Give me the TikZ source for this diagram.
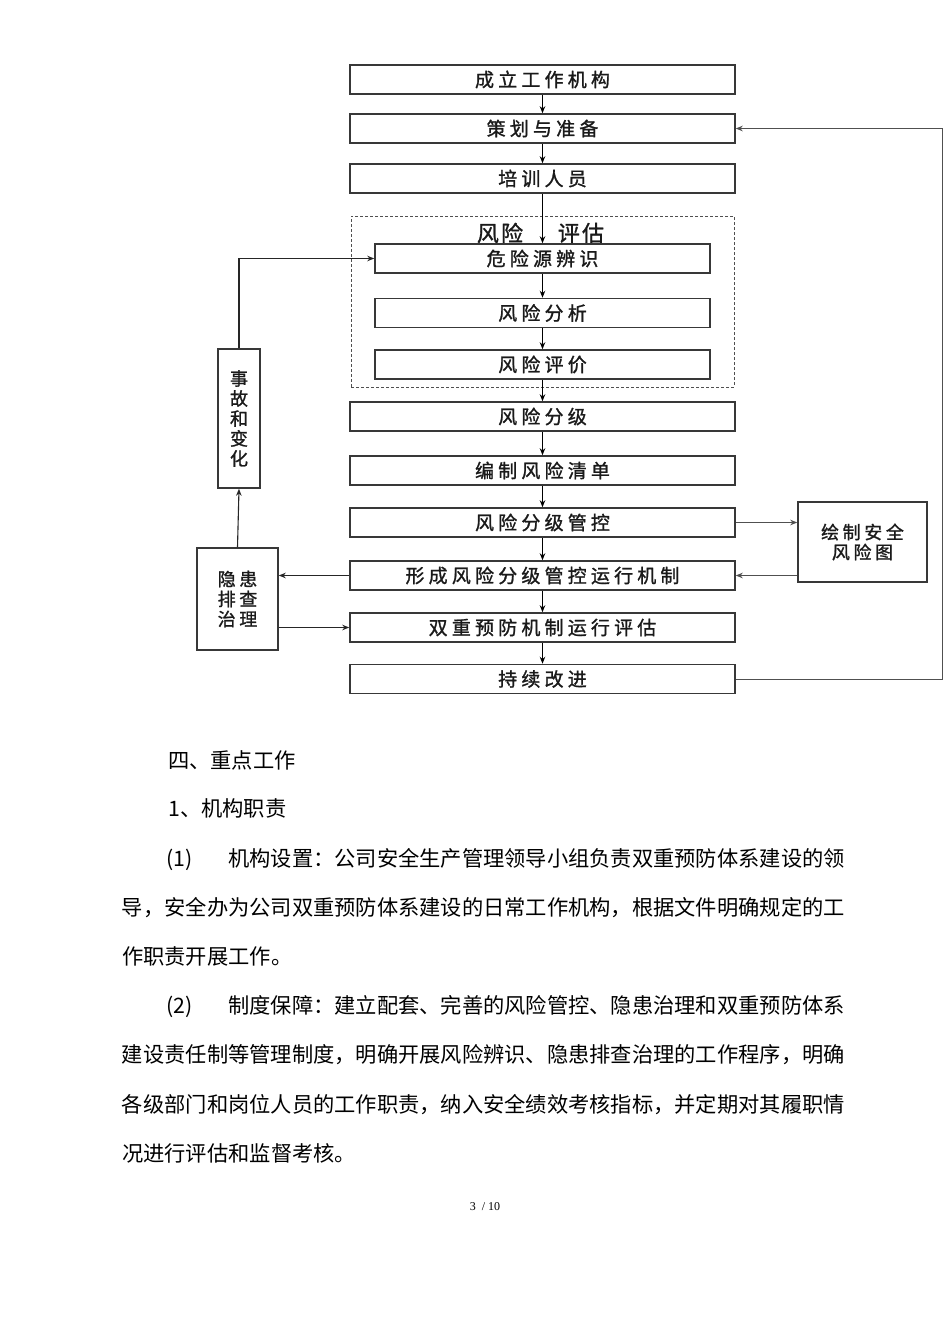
\documentclass[tikz,border=0pt]{standalone}
\usepackage{fontspec}
\setmainfont{Liberation Serif}
\newfontfamily\cjk{Noto Sans CJK SC}
\newfontfamily\cjkd[LetterSpace=22,FakeBold=1.2]{Noto Sans CJK SC}
\newfontfamily\cjks[LetterSpace=20,FakeBold=1.2]{Noto Sans CJK SC}
\newfontfamily\cjkt[LetterSpace=10,FakeBold=1.2]{Noto Sans CJK SC}
\usetikzlibrary{arrows.meta}
\definecolor{boxc}{HTML}{383838}
\definecolor{fbc}{HTML}{505050}
\definecolor{txt}{HTML}{1A1A1A}
\begin{document}
\begin{tikzpicture}[x=1pt,y=-1pt,
  box/.style={draw=boxc, line width=1.5pt, minimum width=385pt, minimum height=29pt,
    inner sep=0pt, text=txt, font=\cjkd\fontsize{19}{19}\selectfont},
  ibox/.style={box, minimum width=335pt},
  sbox/.style={draw=boxc, line width=1.5pt, inner sep=0pt, align=center, text=txt,
    font=\cjks\fontsize{18}{20}\selectfont},
  arr/.style={-{Stealth[length=7pt,width=5.5pt]}, line width=1.2pt, draw=black},
  side/.style={-{Stealth[length=7pt,width=5.5pt]}, line width=1.1pt, draw=black!85},
  fb/.style={-{Stealth[length=7pt,width=5.5pt]}, line width=0.9pt, draw=fbc},
  body/.style={inner sep=0pt, text=black, font=\cjk\fontsize{21.26}{22}\selectfont}
]
\useasboundingbox (0,0) rectangle (950,1344);
\fill[white] (0,0) rectangle (950,1344);

% dashed group
\node[draw=fbc, dash pattern=on 3pt off 2pt, line width=1pt, minimum width=383pt, minimum height=171pt, inner sep=0pt] (ra) at (542.5,301.5) {};
\node[inner sep=0pt, text=txt, font=\cjkt\fontsize{22}{22}\selectfont] (lab1) at (500,233) {风险};
\node[inner sep=0pt, text=txt, font=\cjkt\fontsize{22}{22}\selectfont] (lab2) at (581,233) {评估};

% main column
\node[box] (n1) at (542.5,79.5) {成立工作机构};
\node[box] (n2) at (542.5,128.5) {策划与准备};
\node[box] (n3) at (542.5,178.5) {培训人员};
\node[ibox] (r1) at (542.5,258.5) {危险源辨识};
\node[ibox] (r2) at (542.5,313) {风险分析};
\node[ibox] (r3) at (542.5,364.5) {风险评价};
\node[box] (n4) at (542.5,416.5) {风险分级};
\node[box] (n5) at (542.5,470.5) {编制风险清单};
\node[box] (n6) at (542.5,522.5) {风险分级管控};
\node[box] (n7) at (542.5,575.5) {形成风险分级管控运行机制};
\node[box] (n8) at (542.5,627.5) {双重预防机制运行评估};
\node[box] (n9) at (542.5,679) {持续改进};

% side boxes
\node[sbox, minimum width=42pt, minimum height=139pt] (s1) at (239,418.5) {事\\故\\和\\变\\化};
\node[sbox, minimum width=81pt, minimum height=102pt] (s2) at (237.5,599) {隐患\\排查\\治理};
\node[sbox, minimum width=129pt, minimum height=80pt] (s3) at (862.5,542) {绘制安全\\风险图};

% main arrows
\draw[arr] (n1) -- (n2);
\draw[arr] (n2) -- (n3);
\draw[arr] (n3) -- (r1);
\draw[arr] (r1) -- (r2);
\draw[arr] (r2) -- (r3);
\draw[arr] (r3) -- (n4);
\draw[arr] (n4) -- (n5);
\draw[arr] (n5) -- (n6);
\draw[arr] (n6) -- (n7);
\draw[arr] (n7) -- (n8);
\draw[arr] (n8) -- (n9);

% side connectors
\draw[side] (s1.north) |- (r1.west);
\draw[side] (s2.north) -- (s1.south);
\draw[side] (n7.west) -- (n7.west -| s2.east);
\draw[side] (n8.west -| s2.east) -- (n8.west);
\draw[fb] (n6.east) -- (n6.east -| s3.west);
\draw[fb] (n7.east -| s3.west) -- (n7.east);
\coordinate (rc) at (942,679);
\draw[fb] (n9.east) -- (rc) |- (n2.east);

% body text
\node[body, anchor=base west] (t1) at (168,768) {四、重点工作};
\node[body, anchor=base west] (t2) at (168,816) {1、机构职责};
\node[body, anchor=base west] (t3a) at (166,866) {(1)};
\node[body, anchor=base east] (t3) at (845,866) {机构设置：公司安全生产管理领导小组负责双重预防体系建设的领};
\node[body, anchor=base east] (t4) at (845,915) {导，安全办为公司双重预防体系建设的日常工作机构，根据文件明确规定的工};
\node[body, anchor=base west] (t5) at (122,964) {作职责开展工作。};
\node[body, anchor=base west] (t6a) at (166,1013) {(2)};
\node[body, anchor=base east] (t6) at (845,1013) {制度保障：建立配套、完善的风险管控、隐患治理和双重预防体系};
\node[body, anchor=base east] (t7) at (845,1062) {建设责任制等管理制度，明确开展风险辨识、隐患排查治理的工作程序，明确};
\node[body, anchor=base east] (t8) at (845,1112) {各级部门和岗位人员的工作职责，纳入安全绩效考核指标，并定期对其履职情};
\node[body, anchor=base west] (t9) at (122,1161) {况进行评估和监督考核。};
\node[inner sep=0pt, font=\fontsize{12}{12}\selectfont] (pg) at (485,1207) {3 \ / 10};
\end{tikzpicture}
\end{document}
